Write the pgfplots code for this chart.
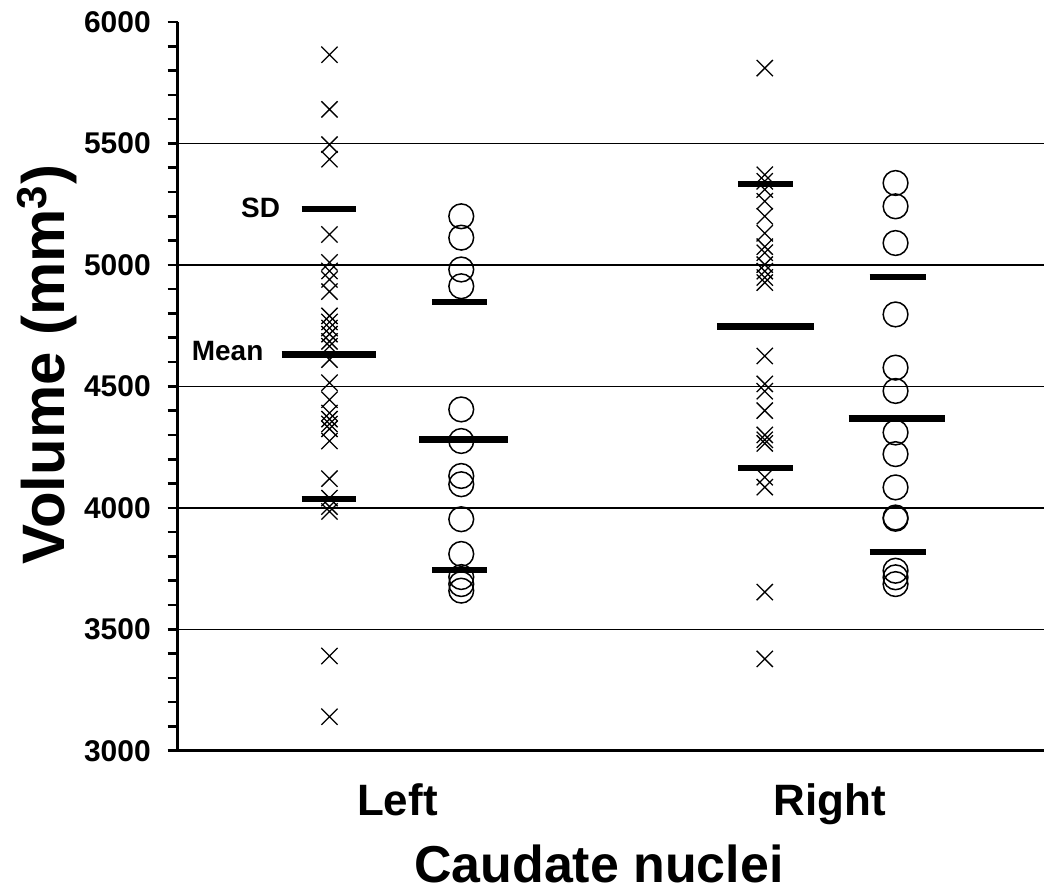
\documentclass[border=0pt]{standalone}
\usepackage{fontspec}
\setmainfont{Liberation Sans}
\usepackage{pgfplots}
\usepackage{pgfplotstable}
\pgfplotsset{compat=1.18}

% caudate volumes (mm^3)
\pgfplotstableread{
y
5865
5640
5495
5435
5125
5010
4975
4940
4890
4790
4765
4740
4715
4685
4665
4610
4515
4445
4390
4365
4345
4325
4275
4120
4040
4005
3985
3390
3140
}\leftx
\pgfplotstableread{
y
5200
5112
4981
4912
4405
4275
4131
4097
3953
3810
3715
3686
3659
}\lefto
\pgfplotstableread{
y
5810
5371
5344
5310
5262
5200
5130
5075
5050
5001
4974
4948
4927
4625
4510
4480
4400
4300
4280
4265
4126
4085
3653
3378
}\rightx
\pgfplotstableread{
y
5337
5241
5090
4796
4577
4481
4310
4221
4084
3960
3955
3741
3714
3686
}\righto

\begin{document}
\begin{tikzpicture}
\begin{axis}[
    scale only axis,
    width=434pt, height=365pt,
    xmin=0, xmax=8.68, ymin=3000, ymax=6000,
    clip=false,
    axis x line*=bottom, axis y line*=left,
    axis line style={line width=1.7pt},
    ytick={3000,3500,...,6000},
    minor y tick num=4,
    tick align=outside,
    major tick length=5pt, minor tick length=5pt,
    every tick/.style={black, line width=1.3pt},
    xtick={2.20,6.53}, xticklabels={Left,Right},
    x tick style={draw=none},
    extra y ticks={3500,4000,4500,5000,5500},
    extra y tick labels={},
    extra y tick style={grid=major, major tick length=0pt},
    grid style={black, line width=0.7pt},
    /pgf/number format/assume math mode=true,
    /pgf/number format/1000 sep={},
    yticklabel style={font=\fontsize{15}{18}\selectfont\bfseries, xshift=-5pt},
    xticklabel style={font=\fontsize{22}{26}\selectfont\bfseries, yshift=-8pt},
    xlabel={Caudate nuclei},
    ylabel={Volume (mm\textsuperscript{3})},
    xlabel style={font=\fontsize{26}{30}\selectfont\bfseries, at={(axis description cs:0.486,-0.155)}, anchor=center},
    ylabel style={font=\fontsize{30}{34}\selectfont\bfseries, at={(axis description cs:-0.151,0.53)}, anchor=center},
]
% individual volumes
\addplot[only marks, mark=x, mark size=5.75pt, mark options={black, line width=0.65pt}] table[x expr=1.52, y=y] {\leftx};
\addplot[only marks, mark=o, mark size=6.2pt, mark options={black, line width=0.75pt}] table[x expr=2.84, y=y] {\lefto};
\addplot[only marks, mark=x, mark size=5.75pt, mark options={black, line width=0.65pt}] table[x expr=5.88, y=y] {\rightx};
\addplot[only marks, mark=o, mark size=6.2pt, mark options={black, line width=0.75pt}] table[x expr=7.19, y=y] {\righto};

% means
\addplot[black, line width=3.75pt] coordinates {(1.04,4632) (1.99,4632)};
\addplot[black, line width=3.75pt] coordinates {(2.42,4282) (3.31,4282)};
\addplot[black, line width=3.75pt] coordinates {(5.40,4747) (6.37,4747)};
\addplot[black, line width=3.75pt] coordinates {(6.72,4367) (7.69,4367)};
% mean +/- SD
\addplot[black, line width=3pt] coordinates {(1.24,5230) (1.79,5230)};
\addplot[black, line width=3pt] coordinates {(1.24,4036) (1.79,4036)};
\addplot[black, line width=3pt] coordinates {(2.55,4847) (3.10,4847)};
\addplot[black, line width=3pt] coordinates {(2.55,3744) (3.10,3744)};
\addplot[black, line width=3pt] coordinates {(5.61,5333) (6.16,5333)};
\addplot[black, line width=3pt] coordinates {(5.61,4163) (6.16,4163)};
\addplot[black, line width=3pt] coordinates {(6.93,4951) (7.49,4951)};
\addplot[black, line width=3pt] coordinates {(6.93,3819) (7.49,3819)};

\node[font=\fontsize{14}{16}\selectfont\bfseries] at (axis cs:0.83,5236) {SD};
\node[font=\fontsize{14}{16}\selectfont\bfseries] at (axis cs:0.50,4644) {Mean};

\path (axis description cs:-0.2051,-0.1945) rectangle (axis description cs:1,1.0301);
\end{axis}
\end{tikzpicture}
\end{document}
